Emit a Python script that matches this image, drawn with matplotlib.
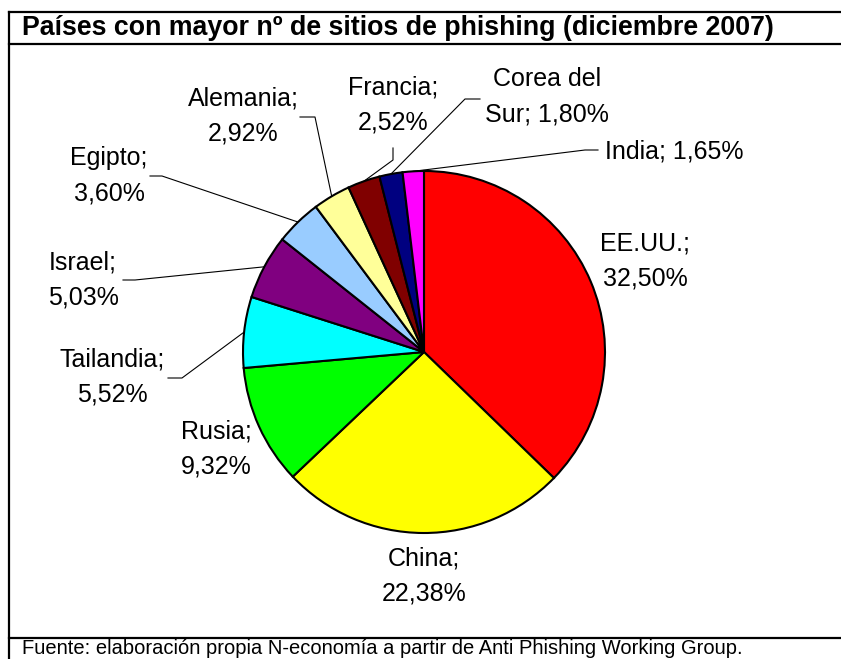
import matplotlib
matplotlib.use('Agg')
import matplotlib.pyplot as plt

plt.rcParams['font.family'] = ['Liberation Sans', 'DejaVu Sans']

# datos (diciembre 2007)
paises = ['EE.UU.', 'China', 'Rusia', 'Tailandia', 'Israel', 'Egipto',
          'Alemania', 'Francia', 'Corea del\nSur', 'India']
valores = [32.50, 22.38, 9.32, 5.52, 5.03, 3.60, 2.92, 2.52, 1.80, 1.65]
colores = ['#FF0000', '#FFFF00', '#00FF00', '#00FFFF', '#800080', '#99CCFF',
           '#FFFF99', '#800000', '#000080', '#FF00FF']
separador = ['\n'] * 8 + [' ', ' ']

titulo = 'Países con mayor nº de sitios de phishing (diciembre 2007)'
fuente = 'Fuente: elaboración propia N-economía a partir de Anti Phishing Working Group.'

W, H = 841, 659
fig = plt.figure(figsize=(W / 100, H / 100), dpi=100)
ax = fig.add_axes([0, 0, 1, 1])

def py(y):
    # pixel row -> data y
    return H - y

wedges, _ = ax.pie(valores, colors=colores, startangle=90, counterclock=False,
                   center=(424, py(352)), radius=181,
                   wedgeprops=dict(edgecolor='black', linewidth=1.5))
ax.set_xlim(0, W)
ax.set_ylim(0, H)
ax.set_aspect('equal')
ax.axis('off')

etiquetas = []
for p, v, s in zip(paises, valores, separador):
    etiquetas.append(p + ';' + s + f'{v:.2f}'.replace('.', ',') + '%')

# posiciones de las etiquetas (pixeles) y codos de las lineas guia
pos = [(645, 261), (424, 576), (216, 449), (112, 377), (83, 280), (109, 176),
       (243, 116), (393, 105), (547, 97), (674, 151)]
guias = [None, None, None,
         [(182, 378), (168, 378)],
         [(135, 280), (123, 280)],
         [(162, 176), (150, 176)],
         [(315, 117), (300, 117)],
         [(393, 160), (393, 148)],
         [(465, 99), (480, 99)],
         [(585, 150), (598, 150)]]

import numpy as np
for w, txt, (x, y), g in zip(wedges, etiquetas, pos, guias):
    ax.text(x, py(y), txt, ha='center', va='center', fontsize=18,
            linespacing=1.62, multialignment='center')
    if g is not None:
        ang = np.deg2rad((w.theta1 + w.theta2) / 2)
        x0 = w.center[0] + w.r * np.cos(ang)
        y0 = w.center[1] + w.r * np.sin(ang)
        xs = [x0] + [q[0] for q in g]
        ys = [y0] + [py(q[1]) for q in g]
        ax.plot(xs, ys, color='black', lw=0.8, zorder=0.5)

# marco
lw = 1.6
ax.plot([9.5, 9.5], [py(11.5), 0], color='black', lw=lw)
for yy in [11.5, 43.5, 637.5]:
    ax.plot([9.5, W], [py(yy), py(yy)], color='black', lw=lw)

ax.text(22, py(28), titulo, ha='left', va='center', fontsize=19.3,
        fontweight='bold')
ax.text(22, py(649), fuente, ha='left', va='center', fontsize=14.5)

fig.savefig('out.png', dpi=100)
